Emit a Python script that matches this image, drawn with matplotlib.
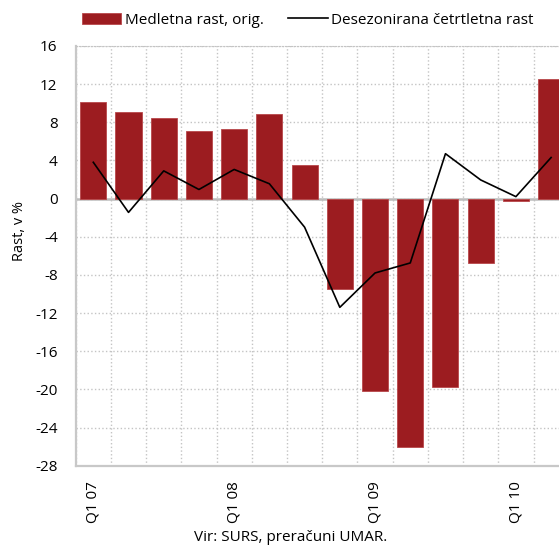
import numpy as np
import matplotlib
matplotlib.use('Agg')
import matplotlib.pyplot as plt
from matplotlib.patches import Patch
from matplotlib.lines import Line2D

plt.rcParams['font.family'] = ['Open Sans', 'DejaVu Sans']

# ── Podatki ──────────────────────────────────────────────────────────────────
kvartali = ['Q1 07', 'Q2 07', 'Q3 07', 'Q4 07', 'Q1 08', 'Q2 08', 'Q3 08', 'Q4 08',
            'Q1 09', 'Q2 09', 'Q3 09', 'Q4 09', 'Q1 10', 'Q2 10']
medletna = [10.1, 9.05, 8.45, 7.1, 7.25, 8.9, 3.5, -9.45, -20.15, -26.05, -19.7,
            -6.75, -0.25, 12.55]
desezon = [3.8, -1.45, 2.9, 0.95, 3.05, 1.55, -3.0, -11.4, -7.8, -6.75, 4.7,
           1.95, 0.2, 4.3]
yticks = list(range(-28, 17, 4))

RED = '#9C1C20'; GRID = '#c4c4c4'

x = np.arange(len(kvartali))
fig = plt.figure(figsize=(5.59, 5.46), dpi=100)
ax = fig.add_axes([0.1354, 0.147, 0.882, 0.769])

ax.bar(x, medletna, width=0.74, color=RED, edgecolor='#b8474a', linewidth=0.6, zorder=3)
ax.plot(x, desezon, color='black', lw=1.2, zorder=4)
ax.axhline(0, color='#bdbdbd', lw=1.8, zorder=2)

ax.set_xlim(-0.5, len(kvartali) - 0.5)
ax.set_ylim(-28, 16)
ax.set_yticks(yticks)
ax.set_yticklabels([str(t) for t in yticks], fontsize=11)
ax.set_xticks(x[::4])
ax.set_xticklabels(kvartali[::4], rotation=90, fontsize=11)
ax.set_xticks(np.arange(-0.5, len(kvartali), 1), minor=True)
ax.tick_params(axis='both', which='both', length=0)
ax.tick_params(axis='y', pad=13)
ax.tick_params(axis='x', pad=11)

ax.grid(axis='y', which='major', color=GRID, ls=':', lw=1.0, zorder=0)
ax.grid(axis='x', which='minor', color=GRID, ls=':', lw=1.0, zorder=0)
for s in ['left', 'bottom']:
    ax.spines[s].set_color('#c8c8c8'); ax.spines[s].set_linewidth(1.6)
ax.spines['top'].set_color(GRID); ax.spines['top'].set_linestyle(':')
ax.spines['right'].set_visible(False)

ax.set_ylabel('Rast, v %', fontsize=10.5)
ax.yaxis.set_label_coords(-0.099, 0.56)

handles = [Patch(facecolor=RED, edgecolor='#b8474a', lw=0.6),
           Line2D([0], [0], color='black', lw=1.2)]
fig.legend(handles, ['Medletna rast, orig.', 'Desezonirana četrtletna rast'],
           loc='center', bbox_to_anchor=(0.55, 0.963), ncol=2, frameon=False,
           fontsize=11, handlelength=2.6, handletextpad=0.2, columnspacing=1.6)

fig.text(0.52, 0.016, 'Vir: SURS, preračuni UMAR.', ha='center', va='center', fontsize=11)

fig.savefig('out.png', dpi=100)
